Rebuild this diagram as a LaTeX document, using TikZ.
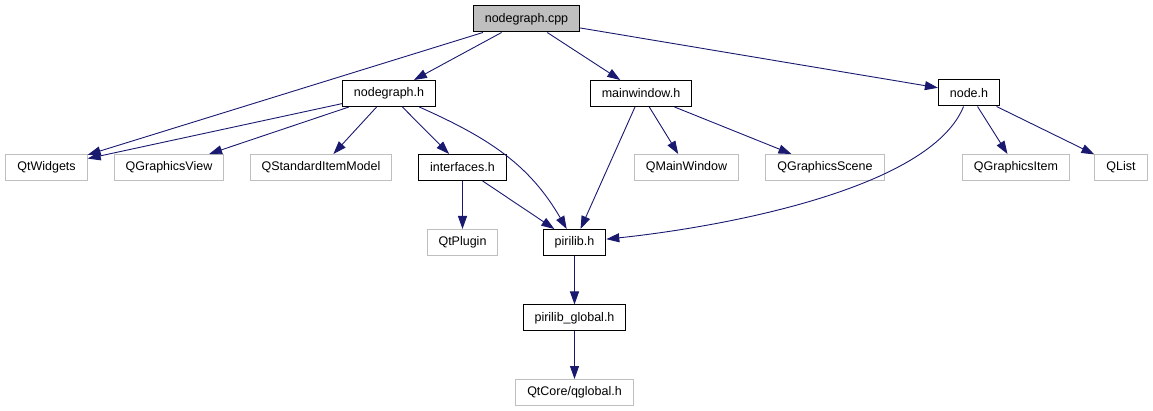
\documentclass[tikz,border=0pt]{standalone}
\usepackage{fontspec}
\setmainfont{Liberation Sans}
\usetikzlibrary{arrows.meta}
\definecolor{edgeblue}{RGB}{25,25,112}
\definecolor{extgray}{RGB}{191,191,191}

\begin{document}
\begin{tikzpicture}[x=1pt, y=-1pt, >={Triangle[length=13pt,width=9pt]},
  file/.style={draw=black, line width=1pt, fill=white, inner xsep=11.5pt, inner ysep=0pt,
    minimum height=26pt, font=\fontsize{12.5}{15}\selectfont},
  extfile/.style={file, draw=extgray},
  srcfile/.style={file, fill=extgray},
  dep/.style={->, color=edgeblue, line width=0.9pt}]
  \useasboundingbox (0,0) rectangle (1153,411);

  % files
  \node[srcfile] (cpp)   at (526.5,19)   {nodegraph.cpp};
  \node[file]    (ngh)   at (389,93.5)   {nodegraph.h};
  \node[file]    (mwh)   at (641,93.5)   {mainwindow.h};
  \node[file]    (nodeh) at (969,93)     {node.h};
  \node[extfile] (qtw)   at (46.5,167.5) {QtWidgets};
  \node[extfile] (qgv)   at (169,167.5)  {QGraphicsView};
  \node[extfile] (qsim)  at (321,167.5)  {QStandardItemModel};
  \node[file]    (ifh)   at (462.5,167.5) {interfaces.h};
  \node[extfile] (qmw)   at (686.5,167.5) {QMainWindow};
  \node[extfile] (qgs)   at (825,167.5)  {QGraphicsScene};
  \node[extfile] (qgi)   at (1016,167.5) {QGraphicsItem};
  \node[extfile] (qlist) at (1121,167.5) {QList};
  \node[extfile] (qtp)   at (462.5,242.5) {QtPlugin};
  \node[file]    (pir)   at (574.5,242.5) {pirilib.h};
  \node[file]    (pirg)  at (574.5,318)  {pirilib\_global.h};
  \node[extfile] (qglob) at (574.5,392.5) {QtCore/qglobal.h};

  % includes
  \draw[dep] (cpp) -- (qtw);
  \draw[dep] (cpp) -- (ngh);
  \draw[dep] (cpp) -- (mwh);
  \draw[dep] (cpp) -- (nodeh);
  \draw[dep] (ngh) -- (qtw);
  \draw[dep] (ngh) -- (qgv);
  \draw[dep] (ngh) -- (qsim);
  \draw[dep] (ngh) -- (ifh);
  \draw[dep] (ngh) to[out=-24, in=120] (pir);
  \draw[dep] (ifh) -- (qtp);
  \draw[dep] (ifh) -- (pir);
  \draw[dep] (mwh) -- (pir);
  \draw[dep] (mwh) -- (qmw);
  \draw[dep] (mwh) -- (qgs);
  \draw[dep] (nodeh) to[out=-112, in=6, out looseness=0.6, in looseness=0.77] (pir);
  \draw[dep] (nodeh) -- (qgi);
  \draw[dep] (nodeh) -- (qlist);
  \draw[dep] (pir) -- (pirg);
  \draw[dep] (pirg) -- (qglob);
\end{tikzpicture}
\end{document}
